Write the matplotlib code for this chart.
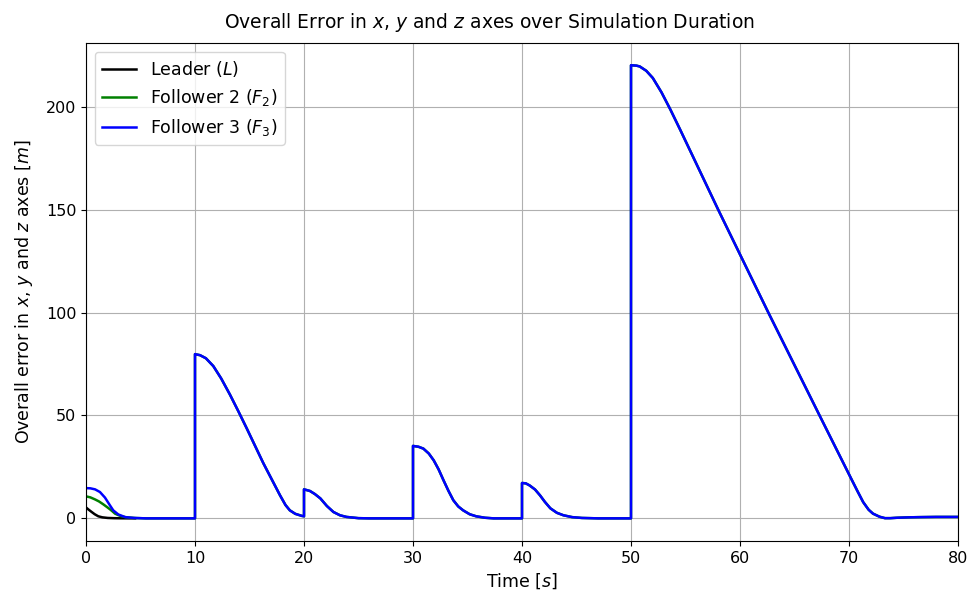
import matplotlib
matplotlib.use('Agg')
import matplotlib.pyplot as plt

# 读取的数据点
# Leader
leader_t = [0.0, 0.25, 0.52, 0.8, 1.13, 1.5, 2.0, 2.6, 3.2, 4.0, 4.5]
leader_e = [5.3, 4.2, 3.1, 2.0, 1.0, 0.5, 0.2, 0.08, 0.03, 0.0, 0.0]

# Follower 2 (first seconds; afterwards it coincides with follower 3)
f2_t0 = [0.0, 0.4, 0.83, 1.2, 1.59, 1.9, 2.2, 2.45, 2.66, 2.95, 3.27, 3.6, 4.0, 4.6]
f2_e0 = [10.7, 10.2, 9.2, 8.2, 6.8, 5.6, 4.4, 3.3, 2.3, 1.6, 1.0, 0.6, 0.4, 0.15]

# Follower 3
f3_t = [0.0, 0.4, 0.83, 1.28, 1.74, 2.2, 2.5, 2.96, 3.6, 4.4, 5.5, 10.0,
        10.0, 10.46, 11.0, 11.68, 12.4, 13.2, 14.0, 14.74, 16.27, 17.8, 18.3, 18.7, 19.2, 19.8, 20.0,
        20.0, 20.55, 21.0, 21.5, 22.1, 22.7, 23.3, 23.9, 25.0, 26.0, 30.0,
        30.0, 30.5, 30.95, 31.45, 31.9, 32.35, 32.8, 33.25, 33.7, 34.15, 34.6, 35.2, 35.8, 36.6, 37.4, 40.0,
        40.0, 40.35, 40.7, 41.2, 41.65, 42.1, 42.6, 43.2, 43.8, 44.6, 45.5, 47.0, 50.0,
        50.0, 50.5, 50.8, 51.4, 52.0, 52.8, 53.6, 54.5, 58.0, 62.6, 67.3, 69.0, 70.2, 70.8,
        71.3, 71.8, 72.2, 72.8, 73.3, 73.8, 74.4, 75.5, 76.5, 78.0, 80.0]
f3_e = [14.7, 14.6, 14.1, 12.8, 10.1, 6.3, 3.9, 1.9, 0.6, 0.2, 0.0, 0.0,
        79.8, 79.3, 77.8, 74.0, 68.0, 60.2, 51.8, 43.8, 26.8, 11.2, 6.5, 3.9, 2.2, 1.2, 1.0,
        14.1, 13.3, 11.8, 9.7, 6.0, 3.1, 1.5, 0.7, 0.1, 0.0, 0.0,
        35.2, 34.8, 33.9, 31.5, 28.2, 23.8, 18.5, 13.4, 8.8, 5.8, 3.9, 2.0, 1.0, 0.3, 0.0, 0.0,
        17.2, 17.0, 16.0, 14.0, 11.2, 8.0, 4.9, 2.7, 1.5, 0.6, 0.2, 0.0, 0.0,
        220.2, 220.0, 219.6, 217.5, 214.0, 207.0, 198.8, 189.0, 150.0, 100.0, 50.0, 32.0, 19.3, 13.0,
        7.9, 4.2, 2.3, 0.8, 0.1, 0.1, 0.3, 0.5, 0.6, 0.7, 0.7]

# Follower 2 afterwards follows follower 3
k = f3_t.index(5.5)
f2_t = f2_t0 + f3_t[k:]
f2_e = f2_e0 + f3_e[k:]

plt.rcParams['font.size'] = 11.5

fig = plt.figure(figsize=(9.76, 5.94), dpi=100)
ax = fig.add_axes([86 / 976, 1 - 541 / 594, (958 - 86) / 976, (541 - 43) / 594])

ax.plot(leader_t, leader_e, color='black', lw=1.8, label='Leader ($L$)')
ax.plot(f2_t, f2_e, color='green', lw=1.8, label='Follower 2 ($F_2$)')
ax.plot(f3_t, f3_e, color='blue', lw=1.8, label='Follower 3 ($F_3$)')

ax.set_xlim(0, 80)
ax.set_ylim(-11, 231)
ax.grid(True)
ax.set_xlabel('Time [$s$]', fontsize=12.5)
ax.set_ylabel('Overall error in $x$, $y$ and $z$ axes [$m$]', fontsize=12.5, labelpad=8)
ax.legend(loc='upper left', fontsize=12.5)
fig.text(489 / 976, 1 - 23 / 594, 'Overall Error in $x$, $y$ and $z$ axes over Simulation Duration',
         ha='center', va='center', fontsize=13.5)

plt.savefig('out.png', dpi=100)
